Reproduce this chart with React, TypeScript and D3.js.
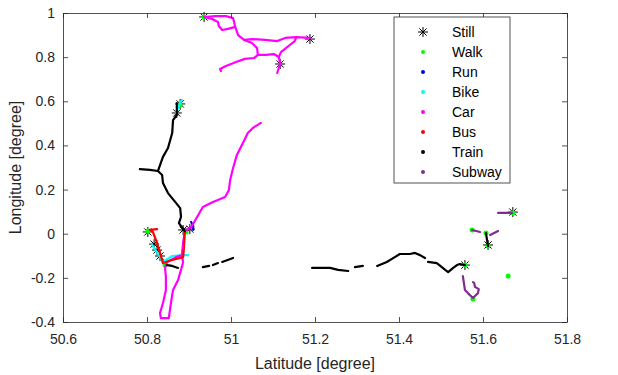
import * as d3 from "d3";
import * as React from "react";

type Pt = [number, number];

const xTicks = [50.6, 50.8, 51, 51.2, 51.4, 51.6, 51.8];
const yTicks = [-0.4, -0.2, 0, 0.2, 0.4, 0.6, 0.8, 1];

const modes = ["Still", "Walk", "Run", "Bike", "Car", "Bus", "Train", "Subway"];
const modeColors = ["#000000", "#00ff00", "#0000ff", "#00ffff", "#ff00ff", "#ff0000", "#000000", "#7e2f8e"];

// [latitude, longitude]
const stillPoints: Pt[] = [
    [50.936, 0.982], [51.188, 0.882], [51.117, 0.769], [50.879, 0.588], [50.871, 0.547],
    [50.802, 0.008], [50.817, -0.047], [50.824, -0.074], [50.831, -0.101], [50.886, 0.017],
    [50.902, 0.021], [51.557, -0.142], [51.612, -0.051], [51.671, 0.098],
];

const walkPoints: Pt[] = [
    [50.936, 0.982], [50.879, 0.583], [50.802, 0.012], [50.843, -0.142], [50.893, 0.008],
    [51.557, -0.142], [51.574, 0.017], [51.607, 0.003], [51.612, -0.056], [51.671, 0.094],
    [51.660, -0.192], [51.576, -0.296],
];

const runTracks: Pt[][] = [
    [[50.905, 0.053], [50.910, 0.035], [50.910, 0.017]],
];

const bikeTracks: Pt[][] = [
    [[50.869, 0.547], [50.874, 0.570], [50.879, 0.592], [50.883, 0.606]],
    [[50.812, -0.051], [50.824, -0.083], [50.838, -0.128], [50.860, -0.101], [50.886, -0.097], [50.898, -0.097]],
];

const carTracks: Pt[][] = [
    [[50.936, 0.982], [50.962, 0.986], [50.988, 0.986], [51.005, 0.977], [51.010, 0.937], [50.993, 0.928],
     [50.979, 0.923], [50.971, 0.941], [50.969, 0.959], [50.955, 0.973], [50.936, 0.982]],
    [[51.010, 0.937], [51.017, 0.900], [51.031, 0.878], [51.050, 0.864], [51.062, 0.841], [51.064, 0.810],
     [51.055, 0.796], [51.033, 0.792], [51.012, 0.778], [50.988, 0.760], [50.974, 0.746], [50.976, 0.737]],
    [[51.031, 0.878], [51.050, 0.882], [51.081, 0.878], [51.110, 0.873], [51.129, 0.887], [51.155, 0.891], [51.188, 0.887]],
    [[51.064, 0.810], [51.083, 0.810], [51.102, 0.814], [51.114, 0.801], [51.119, 0.823], [51.140, 0.855],
     [51.152, 0.873], [51.155, 0.891]],
    [[51.114, 0.801], [51.117, 0.769], [51.110, 0.728]],
    [[50.890, 0.012], [50.902, 0.026], [50.907, 0.035], [50.933, 0.121], [50.957, 0.144], [50.986, 0.166],
     [50.995, 0.198], [50.998, 0.243], [51.005, 0.298], [51.014, 0.357], [51.026, 0.402], [51.040, 0.456],
     [51.052, 0.479], [51.071, 0.502]],
    [[50.890, 0.012], [50.886, -0.042], [50.883, -0.097], [50.886, -0.128], [50.881, -0.164], [50.874, -0.210],
     [50.862, -0.255], [50.857, -0.314], [50.852, -0.382], [50.833, -0.382], [50.831, -0.359], [50.838, -0.314],
     [50.845, -0.255], [50.845, -0.196], [50.843, -0.155], [50.848, -0.128], [50.869, -0.106], [50.883, -0.097]],
];

const busTracks: Pt[][] = [
    [[50.824, 0.021], [50.807, 0.017], [50.814, 0.008], [50.824, -0.042], [50.838, -0.133], [50.860, -0.119],
     [50.886, -0.106], [50.888, -0.065], [50.890, 0.008]],
];

const trainTracks: Pt[][] = [
    [[50.871, 0.592], [50.871, 0.538], [50.862, 0.515], [50.860, 0.456], [50.850, 0.388], [50.838, 0.348],
     [50.831, 0.311], [50.826, 0.284], [50.836, 0.266], [50.838, 0.230], [50.850, 0.184], [50.867, 0.144],
     [50.879, 0.116], [50.881, 0.076], [50.876, 0.048], [50.883, 0.030], [50.890, 0.012]],
    [[50.783, 0.293], [50.807, 0.289], [50.826, 0.284]],
    [[50.848, -0.142], [50.860, -0.146], [50.874, -0.155]],
    [[50.933, -0.151], [50.948, -0.146]],
    [[50.957, -0.142], [50.969, -0.133]],
    [[50.979, -0.128], [51.005, -0.110]],
    [[51.193, -0.155], [51.236, -0.155], [51.255, -0.164], [51.279, -0.169]],
    [[51.295, -0.151], [51.314, -0.146]],
    [[51.348, -0.146], [51.371, -0.128], [51.390, -0.106], [51.402, -0.092], [51.426, -0.092], [51.438, -0.087],
     [51.450, -0.097], [51.462, -0.110]],
    [[51.469, -0.128], [51.490, -0.133], [51.502, -0.151], [51.510, -0.164], [51.517, -0.174], [51.529, -0.155],
     [51.538, -0.142], [51.545, -0.137], [51.557, -0.142]],
    [[51.607, 0.003], [51.612, -0.056]],
];

const subwayTracks: Pt[][] = [
    [[51.574, 0.017], [51.593, 0.008]],
    [[51.617, -0.006], [51.636, 0.012]],
    [[51.636, 0.094], [51.669, 0.094]],
    [[51.552, -0.192], [51.557, -0.255], [51.564, -0.269], [51.576, -0.291], [51.588, -0.269], [51.590, -0.251],
     [51.581, -0.241], [51.579, -0.223], [51.576, -0.219]],
];

const W = 618;
const H = 375;
const M = { left: 63, right: 51, top: 13, bottom: 53 };
const axisColor = "#262626";
const font = "'Liberation Sans', Arial, sans-serif";

function star(r: number): string {
    const d = r * 0.72;
    return `M${-r},0H${r}M0,${-r}V${r}M${-d},${-d}L${d},${d}M${-d},${d}L${d},${-d}`;
}

export default function App(): JSX.Element {
    const ref = React.useRef<SVGSVGElement>(null);

    React.useEffect(() => {
        const svg = d3.select(ref.current);
        svg.selectAll("*").remove();

        const x = d3.scaleLinear().domain([50.6, 51.8]).range([M.left, W - M.right]);
        const y = d3.scaleLinear().domain([-0.4, 1]).range([H - M.bottom, M.top]);
        const fmt = (d: d3.NumberValue) => String(+(+d).toFixed(1));

        const plot = svg.append("g");
        const line = d3.line<Pt>().x(d => x(d[0])).y(d => y(d[1])).curve(d3.curveLinear);

        // plot order follows the legend
        plot.selectAll("path.still")
            .data(stillPoints)
            .enter()
            .append("path")
            .attr("transform", d => `translate(${x(d[0])},${y(d[1])})`)
            .attr("d", star(5))
            .attr("stroke", "#000")
            .attr("stroke-width", 1)
            .attr("fill", "none");

        plot.selectAll("circle.walk")
            .data(walkPoints)
            .enter()
            .append("circle")
            .attr("cx", d => x(d[0]))
            .attr("cy", d => y(d[1]))
            .attr("r", 2.5)
            .attr("fill", modeColors[1]);

        const groups: [Pt[][], string][] = [
            [runTracks, modeColors[2]],
            [bikeTracks, modeColors[3]],
            [carTracks, modeColors[4]],
            [busTracks, modeColors[5]],
            [trainTracks, modeColors[6]],
            [subwayTracks, modeColors[7]],
        ];
        groups.forEach(([tracks, color]) => {
            plot.append("g")
                .selectAll("path")
                .data(tracks)
                .enter()
                .append("path")
                .attr("d", line)
                .attr("fill", "none")
                .attr("stroke", color)
                .attr("stroke-width", 2.2)
                .attr("stroke-linejoin", "round")
                .attr("stroke-linecap", "round");
        });

        // axes, box style with inward ticks
        const styleAxis = (g: d3.Selection<SVGGElement, unknown, null, undefined>) => {
            g.selectAll("path, line").attr("stroke", axisColor).attr("stroke-width", 0.8);
            g.selectAll("text").attr("fill", axisColor).style("font-family", font).style("font-size", "14px");
        };

        svg.append("g")
            .attr("transform", `translate(0,${H - M.bottom})`)
            .call(d3.axisBottom(x).tickValues(xTicks).tickFormat(fmt).tickSizeInner(-5).tickSizeOuter(0).tickPadding(12))
            .call(styleAxis);
        svg.append("g")
            .attr("transform", `translate(0,${M.top})`)
            .call(d3.axisTop(x).tickValues(xTicks).tickFormat(() => "").tickSizeInner(-5).tickSizeOuter(0))
            .call(styleAxis);
        svg.append("g")
            .attr("transform", `translate(${M.left},0)`)
            .call(d3.axisLeft(y).tickValues(yTicks).tickFormat(fmt).tickSizeInner(-5).tickSizeOuter(0).tickPadding(8))
            .call(styleAxis);
        svg.append("g")
            .attr("transform", `translate(${W - M.right},0)`)
            .call(d3.axisRight(y).tickValues(yTicks).tickFormat(() => "").tickSizeInner(-5).tickSizeOuter(0))
            .call(styleAxis);

        svg.append("text")
            .attr("x", (M.left + W - M.right) / 2)
            .attr("y", H - 6)
            .attr("text-anchor", "middle")
            .attr("fill", axisColor)
            .style("font-family", font)
            .style("font-size", "16px")
            .text("Latitude [degree]");
        svg.append("text")
            .attr("transform", `translate(21,${(M.top + H - M.bottom) / 2}) rotate(-90)`)
            .attr("text-anchor", "middle")
            .attr("fill", axisColor)
            .style("font-family", font)
            .style("font-size", "16px")
            .text("Longitude [degree]");

        // legend
        const lg = svg.append("g").attr("transform", "translate(394,17)");
        lg.append("rect")
            .attr("width", 116)
            .attr("height", 166)
            .attr("fill", "#fff")
            .attr("stroke", axisColor)
            .attr("stroke-width", 0.8);
        const items = lg.selectAll("g.item")
            .data(modes)
            .enter()
            .append("g")
            .attr("transform", (_, i) => `translate(0,${15 + i * 20})`);
        items.each(function (d, i) {
            const g = d3.select(this);
            if (i === 0) {
                g.append("path").attr("transform", "translate(29,0)").attr("d", star(5))
                    .attr("stroke", "#000").attr("stroke-width", 1);
            } else {
                g.append("circle").attr("cx", 29).attr("r", 2).attr("fill", modeColors[i]);
            }
            g.append("text")
                .attr("x", 58)
                .attr("dy", "0.35em")
                .attr("fill", "#000")
                .style("font-family", font)
                .style("font-size", "14px")
                .text(d);
        });
    }, []);

    return (
        <div style={{ position: "absolute", left: 0, top: 0 }}>
            <svg ref={ref} width={W} height={H} style={{ display: "block", background: "#fff" }} />
        </div>
    );
}
